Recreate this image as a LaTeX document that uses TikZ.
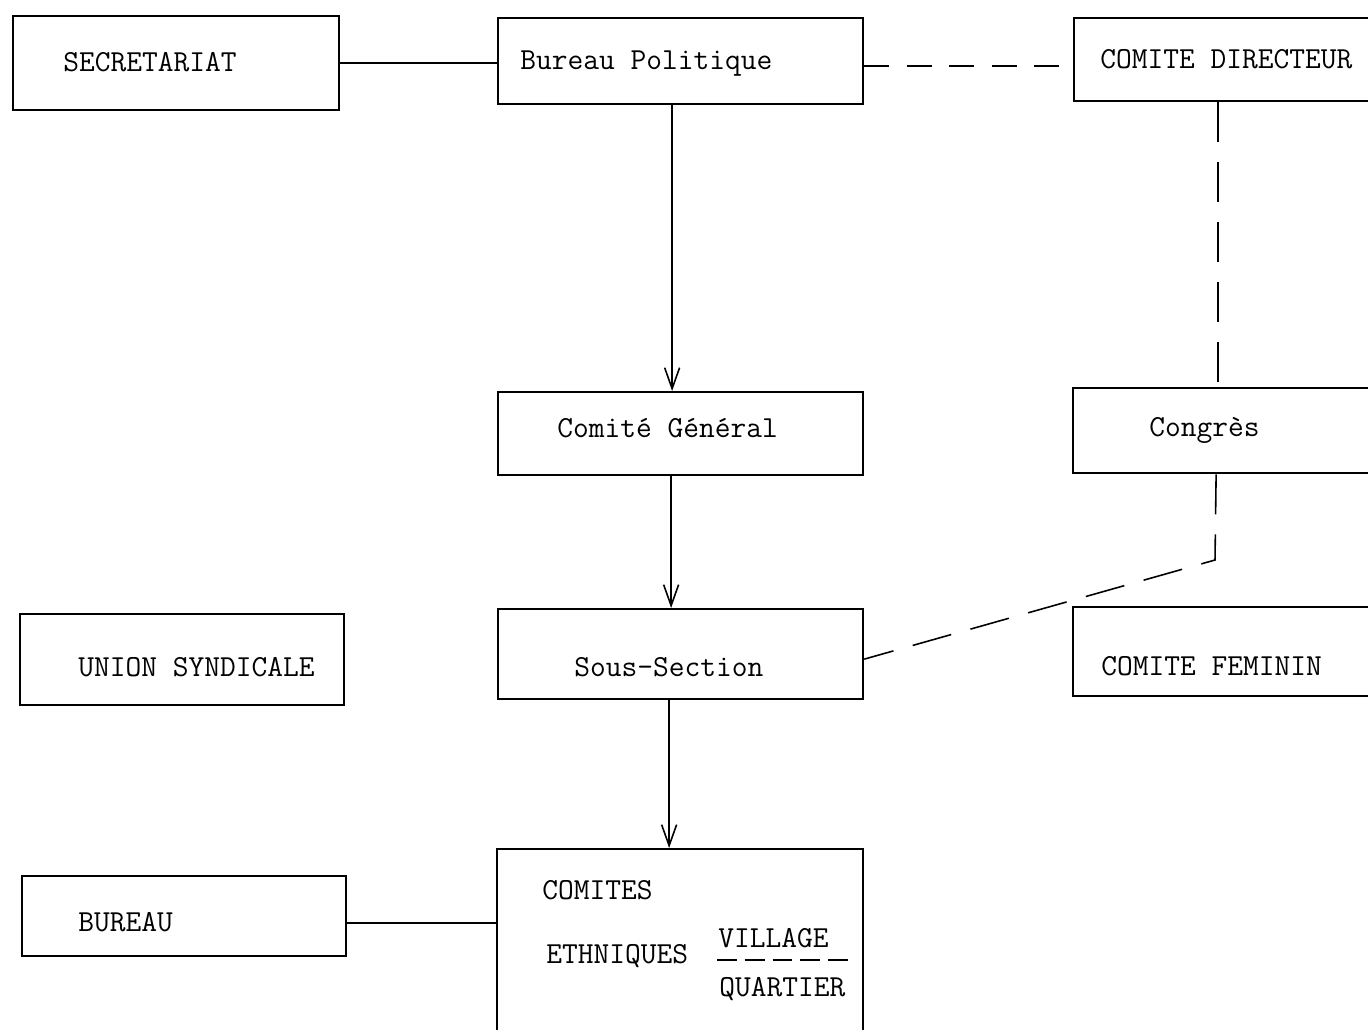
\documentclass[tikz,border=0pt]{standalone}
\usepackage{fontspec}
\setmonofont{Latin Modern Mono}
\usetikzlibrary{arrows.meta,calc}
\tikzset{
  box/.style={draw, line width=1.3pt, inner sep=0pt, anchor=north west},
  lbl/.style={font=\ttfamily\fontsize{17.4}{20}\selectfont, inner sep=0pt, anchor=west, text height=0.62em, text depth=0pt, yshift=-0.06cm},
  conn/.style={line width=0.9pt},
  dconn/.style={line width=0.9pt, dash pattern=on 0.5cm off 0.35cm},
  arr/.style={line width=0.9pt, -{Straight Barb[length=0.42cm, width=0.3cm, line width=0.9pt]}}
}
\begin{document}
\begin{tikzpicture}[x=0.02cm, y=-0.02cm]
\clip (0,0) rectangle (1368,1029);
\fill[white] (0,0) rectangle (1368,1029);
% boxes
\node[box, minimum width=6.52cm, minimum height=1.88cm] (sec) at (12,15) {};
\node[box, minimum width=7.30cm, minimum height=1.72cm] (bp) at (497,17) {};
\node[box, minimum width=6.40cm, minimum height=1.66cm] (cd) at (1073,17) {};
\node[box, minimum width=7.30cm, minimum height=1.66cm] (cg) at (497,391) {};
\node[box, minimum width=6.40cm, minimum height=1.70cm] (cong) at (1072,387) {};
\node[box, minimum width=6.48cm, minimum height=1.82cm] (us) at (19,613) {};
\node[box, minimum width=7.30cm, minimum height=1.80cm] (ss) at (497,608) {};
\node[box, minimum width=6.40cm, minimum height=1.78cm] (cf) at (1072,606) {};
\node[box, minimum width=6.48cm, minimum height=1.60cm] (bur) at (21,875) {};
\node[box, minimum width=7.32cm, minimum height=4.00cm] (com) at (496,848) {};
% labels
\node[lbl] (tsec) at (63,63) {SECRETARIAT};
\node[lbl] (tbp) at (520,61) {Bureau Politique};
\node[lbl] (tcd) at (1100,60) {COMITE DIRECTEUR};
\node[lbl] (tcg) at (557,429) {Comité Général};
\node[lbl] (tcong) at (1149,428) {Congrès};
\node[lbl] (tus) at (78,668) {UNION SYNDICALE};
\node[lbl] (tss) at (574,668) {Sous-Section};
\node[lbl] (tcf) at (1101,667) {COMITE FEMININ};
\node[lbl] (tbur) at (78,923) {BUREAU};
\node[lbl] (tcom) at (542,891) {COMITES};
\node[lbl] (teth) at (546,955) {ETHNIQUES};
\node[lbl] (tvil) at (718,939) {VILLAGE};
\node[lbl] (tqua) at (719,988) {QUARTIER};
\coordinate (vl1) at (717,960);
\coordinate (vl2) at (848,960);
\draw[line width=1pt, dash pattern=on 0.4cm off 0.155cm] (vl1) -- (vl2);
% connectors
\draw[conn] (sec.east) -- (sec.east -| bp.west);
\draw[dconn] ([yshift=-0.1cm]bp.east) -- ([yshift=-0.1cm]bp.east -| cd.west);
\draw[arr] ([xshift=-0.17cm]bp.south) -- ([xshift=-0.17cm]bp.south |- cg.north);
\draw[arr] ([xshift=-0.19cm]cg.south) -- ([xshift=-0.19cm]cg.south |- ss.north);
\draw[arr] ([xshift=-0.23cm]ss.south) -- ([xshift=-0.23cm]ss.south |- com.north);
\draw[dconn, dash pattern=on 0.8cm off 0.4cm] ([xshift=-0.32cm]cd.south) -- ([xshift=-0.32cm]cd.south |- cong.north);
\coordinate (bend) at (1215,560);
\draw[dconn, dash pattern=on 0.8cm off 0.4cm] ([xshift=-0.34cm]cong.south) -- (bend) -- ([yshift=-0.1cm]ss.east);
\draw[conn] ([yshift=-0.14cm]bur.east) -- ([yshift=-0.14cm]bur.east -| com.west);
\end{tikzpicture}
\end{document}
